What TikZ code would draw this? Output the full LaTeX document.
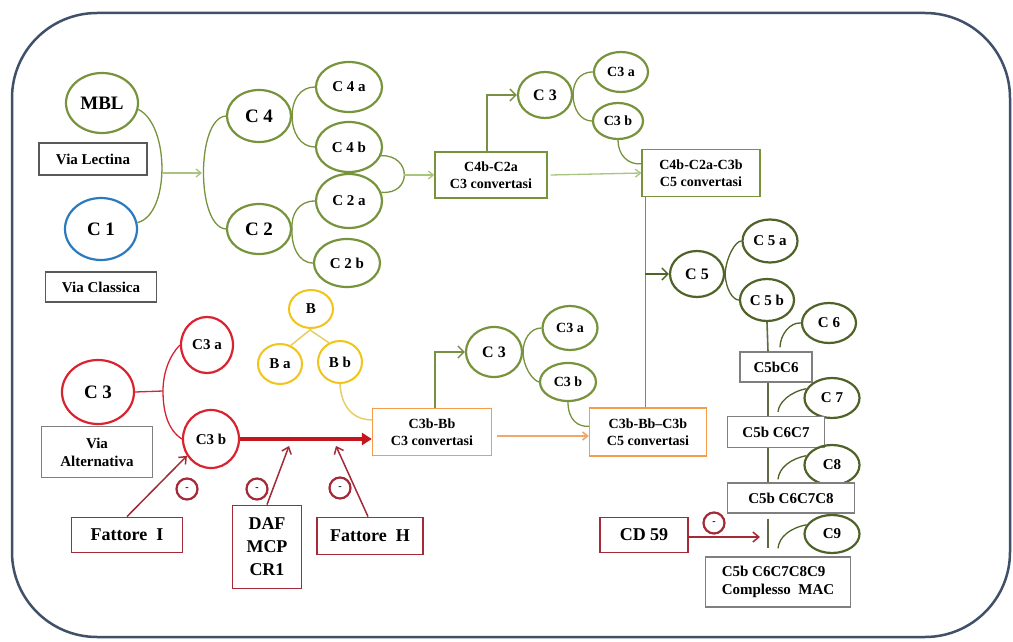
\documentclass[tikz,border=0pt]{standalone}
\usepackage{fontspec}
\setmainfont{Liberation Serif}
\usetikzlibrary{shapes.geometric,arrows.meta,calc}
\definecolor{olv}{HTML}{77933C}
\definecolor{dolv}{HTML}{4F6228}
\definecolor{lgr}{HTML}{A9C47F}
\definecolor{gryb}{HTML}{7F7F7F}
\definecolor{dgry}{HTML}{595959}
\definecolor{redE}{HTML}{DA2330}
\definecolor{dred}{HTML}{A32A36}
\definecolor{thr}{HTML}{C4161C}
\definecolor{yel}{HTML}{F0C419}
\definecolor{yln}{HTML}{E6CF6A}
\definecolor{orng}{HTML}{F59B4C}
\definecolor{orar}{HTML}{F2A76A}
\definecolor{blu}{HTML}{2A7ABF}
\definecolor{frm}{HTML}{3F5068}
\tikzset{
 f13/.style={font=\bfseries\fontsize{14}{17}\selectfont},
 f14/.style={font=\bfseries\fontsize{15}{18}\selectfont},
 f16/.style={font=\bfseries\fontsize{16}{19}\selectfont},
 f18/.style={font=\bfseries\fontsize{18}{23}\selectfont},
 f19/.style={font=\bfseries\fontsize{19}{22}\selectfont},
 sz/.style 2 args={minimum width=#1, minimum height=#2},
 oval/.style={ellipse, inner sep=0pt, line width=2.2pt},
 gE/.style={oval, draw=olv},
 dE/.style={oval, draw=dolv},
 rE/.style={oval, draw=redE},
 yE/.style={oval, draw=yel, line width=2pt},
 bE/.style={oval, draw=blu},
 box/.style={rectangle, inner sep=0pt, align=center, line width=1.3pt, fill=white},
 gBox/.style={box, draw=gryb},
 oBox/.style={box, draw=olv},
 orBox/.style={box, draw=orng},
 rBox/.style={box, draw=dred, line width=1.8pt},
 minus/.style={circle, draw=dred, line width=2.2pt, minimum size=21pt, inner sep=0pt, font=\bfseries\fontsize{10}{10}\selectfont},
 ln/.style={line width=1.3pt, draw=olv},
 dln/.style={line width=1.6pt, draw=dolv},
 rln/.style={line width=1.3pt, draw=redE},
 yl/.style={line width=1.5pt, draw=yln},
 lgA/.style={line width=1.3pt, draw=lgr, -{Straight Barb[length=5pt,width=8pt]}},
 gA/.style={line width=1.5pt, draw=olv!85!gray, -{Straight Barb[length=6pt,width=12pt]}},
 rA/.style={line width=1.5pt, draw=dred, -{Straight Barb[length=6pt,width=10pt]}},
 thickR/.style={line width=3.5pt, draw=thr, -{Triangle[length=10pt,width=12pt]}},
 oA/.style={line width=1.6pt, draw=orar, -{Straight Barb[length=5pt,width=8pt]}},
}
\begin{document}
\begin{tikzpicture}[x=1pt,y=-1pt]
\useasboundingbox (0,0) rectangle (1013,642);
\fill[white] (0,0) rectangle (1013,642);
\draw[frm, line width=2.5pt, rounded corners=85pt] (12,13) rectangle (1010,637);

% ---------- upper pathway ----------
\node[gE, sz={72}{60}, f19] (mbl) at (102,103) {MBL};
\node[box, draw=dgry, sz={108}{32}, f14] (vlec) at (93,159) {Via Lectina};
\node[bE, sz={72}{62}, f19] (c1) at (101,229) {C 1};
\node[box, draw=dgry, sz={111}{30}, f14] (vcla) at (101,287) {Via Classica};

\node[gE, sz={64}{52}, f19] (c4) at (259,116) {C 4};
\node[gE, sz={64}{50}, f19] (c2) at (259,229) {C 2};
\node[gE, sz={66}{50}, f14] (c4a) at (349,87) {C 4 a};
\node[gE, sz={66}{50}, f14] (c4b) at (349,147) {C 4 b};
\node[gE, sz={66}{54}, f14] (c2a) at (349,201) {C 2 a};
\node[gE, sz={66}{48}, f14] (c2b) at (347,263) {C 2 b};

\node[oBox, sz={112}{46}, f13] (box1) at (491,175) {C4b-C2a\\C3 convertasi};
\node[gE, sz={54}{46}, f16] (c3t) at (545,95) {C 3};
\node[gE, sz={54}{40}, f13] (c3ta) at (621,72) {C3 a};
\node[gE, sz={50}{36}, f13] (c3tb) at (618,121) {C3 b};
\node[oBox, sz={118}{47}, f13] (box2) at (701,173) {C4b-C2a-C3b\\C5 convertasi};

\node[dE, sz={54}{46}, f16] (c5) at (697,274) {C 5};
\node[dE, sz={55}{43}, f14] (c5a) at (770,241) {C 5 a};
\node[dE, sz={54}{42}, f14] (c5b) at (767,300) {C 5 b};
\node[dE, sz={54}{40}, f14] (c6) at (829,323) {C 6};
\node[gBox, sz={72}{30}, f14] (b6) at (776,367) {C5bC6};
\node[dE, sz={55}{40}, f14] (c7) at (832,398) {C 7};
\node[gBox, sz={97}{31}, f14] (b67) at (776,432) {C5b C6C7};
\node[dE, sz={55}{40}, f14] (c8) at (832,465) {C8};
\node[gBox, sz={127}{30}, f14] (b678) at (791,498) {C5b C6C7C8};
\node[dE, sz={55}{38}, f14] (c9) at (832,534) {C9};
\node[gBox, sz={145}{50}, f14, align=left] (mac) at (778,582) {C5b C6C7C8C9\\Complesso\ \ MAC};

% ---------- alternative pathway ----------
\node[rE, sz={72}{64}, f19] (c3r) at (98,392) {C 3};
\node[rE, sz={52}{56}, f14] (c3ra) at (207,345) {C3 a};
\node[rE, sz={56}{58}, f14] (c3rb) at (211,439) {C3 b};
\node[gBox, sz={111}{51}, f14] (valt) at (97,452) {Via\\Alternativa};
\node[yE, sz={44}{38}, f14] (bB) at (311,309) {B};
\node[yE, sz={44}{40}, f14] (bBa) at (280,364) {B a};
\node[yE, sz={44}{42}, f14] (bBb) at (340,362) {B b};
\node[orBox, sz={119}{47}, f13] (boxBb) at (432,432) {C3b-Bb\\C3 convertasi};
\node[gE, sz={56}{50}, f16] (c3l) at (494,352) {C 3};
\node[gE, sz={55}{44}, f13] (c3la) at (570,328) {C3 a};
\node[gE, sz={56}{38}, f13] (c3lb) at (568,382) {C3 b};
\node[orBox, sz={117}{48}, f13] (box3) at (648,432) {C3b-Bb--C3b\\C5 convertasi};

\node[rBox, sz={111}{35}, f18] (fI) at (127,535) {Fattore\ \ I};
\node[rBox, sz={69}{83}, f18] (daf) at (267,547) {DAF\\MCP\\CR1};
\node[rBox, sz={106}{37}, f18] (fH) at (370,536) {Fattore\ \ H};
\node[rBox, sz={88}{35}, f18] (cd59) at (644,535) {CD 59};
\node[minus] (m1) at (187,489) {-};
\node[minus] (m2) at (257,489) {-};
\node[minus] (m3) at (340,488) {-};
\node[minus] (m4) at (714,523) {-};

% ---------- connectors (upper) ----------
\coordinate (lj) at (163,173);
\coordinate (la) at (202,173);
\draw[ln] (mbl.-10) .. controls (170,125) and (170,215) .. (c1.10);
\draw[lgA] (lj) -- (la);
\draw[ln] (c4.west) .. controls (196,118) and (196,227) .. (c2.west);
\draw[ln] (c4a.west) .. controls (300,87) and (292,100) .. (c4.east) .. controls (292,132) and (300,147) .. (c4b.west);
\draw[ln] (c2a.west) .. controls (298,201) and (291,215) .. (c2.east) .. controls (291,245) and (298,263) .. (c2b.west);
\coordinate (rj) at (404,175);
\draw[ln] (c4b.-15) .. controls (412,155) and (412,195) .. (c2a.15);
\draw[lgA] (rj) -- (box1.west);
\draw[gA] ([xshift=-4pt]box1.north) |- (c3t.west);
\draw[ln] (c3ta.west) .. controls (578,72) and (573,84) .. (c3t.east) .. controls (573,108) and (580,121) .. (c3tb.west);
\draw[ln] (c3tb.south) .. controls (618,155) and (628,165) .. ([yshift=-15pt]box2.north west);
\draw[lgA] ([xshift=3pt]box1.east) -- (box2.west);
\draw[line width=1.5pt, draw=olv!80!gray] ([xshift=4pt]box2.south west) -- ([xshift=4pt]box2.south west |- box3.north);
\draw[gA, draw=dolv] ([xshift=4pt]box2.south west |- c5.west) -- (c5.west);
\draw[dln, line width=1.3pt] (c5a.west) .. controls (735,241) and (726,258) .. (c5.east) .. controls (726,290) and (733,300) .. (c5b.west);

\coordinate (vx) at (768,0);
\draw[dln, draw=dolv!70!gray] (c5b.south) -- (vx |- b6.north);
\draw[dln, draw=dolv!70!gray] (vx |- b6.south) -- (vx |- b67.north);
\draw[dln, draw=dolv!70!gray] (vx |- b67.south) -- (vx |- b678.north);
\draw[dln, draw=dolv!70!gray] ([yshift=-5pt]vx |- b678.south) -- ([yshift=8pt]vx |- mac.north);
\draw[dln, line width=1.3pt] (c6.west) .. controls (790,322) and (780,335) .. ([xshift=4pt,yshift=4pt]b6.north);
\draw[dln, line width=1.3pt] (c7.160) .. controls (790,392) and (779,402) .. ([xshift=2pt,yshift=4pt]b67.north);
\draw[dln, line width=1.3pt] (c8.160) .. controls (790,459) and (779,468) .. ([xshift=-13pt,yshift=3pt]b678.north);
\draw[dln, line width=1.3pt] (c9.160) .. controls (790,528) and (779,537) .. ([yshift=8pt]mac.north);

% ---------- connectors (lower) ----------
\coordinate (rj2) at (163,391);
\draw[rln] (c3r.east) -- (rj2);
\draw[rln] (c3ra.west) .. controls (170,355) and (163,372) .. (rj2) .. controls (163,412) and (168,430) .. (c3rb.west);
\draw[thickR] (c3rb.east) -- (c3rb.east -| boxBb.west);
\draw[rA] (fI.north) -- (c3rb.215);
\coordinate (dT) at (289,446);
\draw[rA] (daf.north) -- (dT);
\coordinate (hT) at (336,446);
\draw[rA] ([xshift=-2pt]fH.north) -- (hT);
\coordinate (cT) at (760,537);
\draw[rA] ([yshift=-2pt]cd59.east) -- (cT);

\coordinate (bj) at (310,330);
\draw[yl] (bB.south) -- (bj);
\draw[yl] (bBa.60) -- (bj) -- (bBb.120);
\draw[yl] (bBb.south) .. controls (341,405) and (352,420) .. ([yshift=-12pt]boxBb.north west);
\draw[gA] ([xshift=3pt]boxBb.north) |- (c3l.west);
\draw[ln] (c3la.west) .. controls (530,328) and (523,340) .. (c3l.east) .. controls (523,366) and (532,380) .. (c3lb.west);
\draw[ln] (c3lb.south) .. controls (568,420) and (578,427) .. ([yshift=-19pt]box3.north west);
\draw[oA] ([xshift=5pt,yshift=-4pt]boxBb.east) -- ([yshift=-4pt]box3.west);
\end{tikzpicture}
\end{document}
